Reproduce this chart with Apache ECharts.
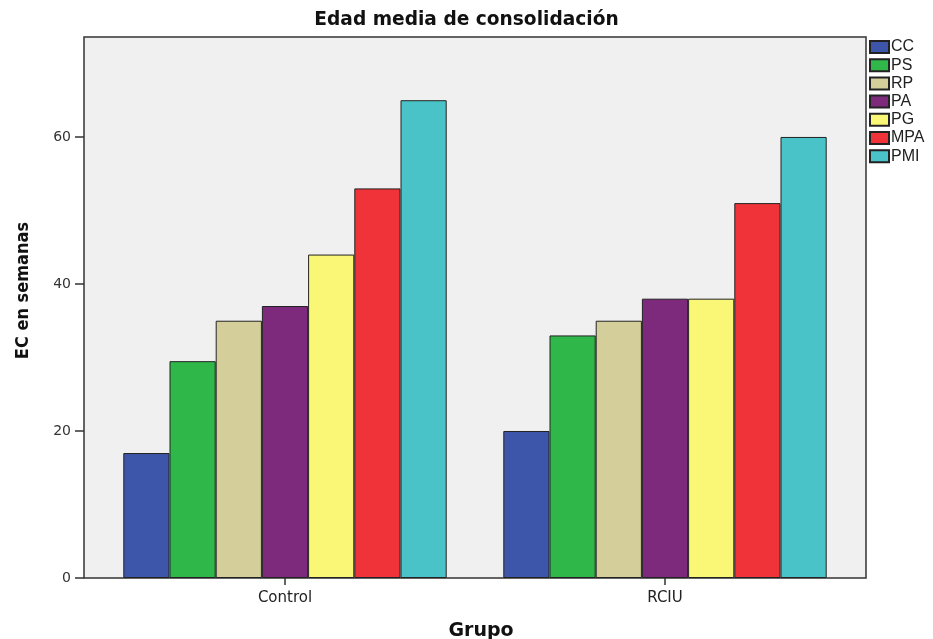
<!DOCTYPE html>
<html>
<head>
<meta charset="utf-8">
<script src="https://cdn.jsdelivr.net/npm/echarts@6/dist/echarts.min.js"></script>
<style>html,body{margin:0;padding:0;background:#fff}#c{width:933px;height:639px}</style>
</head>
<body>
<div id="c"></div>
<script>
const categories = ['Control', 'RCIU'];
const seriesNames = ['CC', 'PS', 'RP', 'PA', 'PG', 'MPA', 'PMI'];
const valCC  = [17, 20];
const valPS  = [29.5, 33];
const valRP  = [35, 35];
const valPA  = [37, 38];
const valPG  = [44, 38];
const valMPA = [53, 51];
const valPMI = [65, 60];
const yTicks = [0, 20, 40, 60];
const colors = ['#3e56a9', '#30b74a', '#d4cf9a', '#7d2a7c', '#fbf776', '#f03339', '#4ac3c8'];
const seriesValues = [valCC, valPS, valRP, valPA, valPG, valMPA, valPMI];

const chart = echarts.init(document.getElementById('c'), null, {renderer: 'canvas'});
const yMax = 73.6;
chart.setOption({
  animation: false,
  backgroundColor: '#ffffff',
  title: {
    text: 'Edad media de consolidación',
    left: 'center',
    top: 6,
    textStyle: {fontFamily: 'DejaVu Sans', fontWeight: 'bold', fontSize: 18.6, color: '#111'}
  },
  legend: {
    orient: 'vertical',
    left: 869,
    top: 39,
    itemWidth: 19,
    itemHeight: 12,
    itemGap: 2.2,
    icon: 'rect',
    padding: 0,
    textStyle: {fontFamily: 'Liberation Sans', fontSize: 16, color: '#222', padding: [0, 0, 0, -3], lineHeight: 16},
    data: seriesNames
  },
  grid: [
    {left: 84, top: 37, width: 782, height: 541, show: true, backgroundColor: '#f0f0f0', borderColor: '#333', borderWidth: 1.5, outerBoundsMode: 'none', containLabel: false},
    {left: 95, top: 37, width: 760, height: 541, outerBoundsMode: 'none', containLabel: false}
  ],
  xAxis: [
    {gridIndex: 0, type: 'value', min: 0, max: 1, show: false},
    {
      gridIndex: 1, type: 'category', data: categories,
      axisLine: {show: false},
      axisTick: {show: true, alignWithLabel: true, length: 7, lineStyle: {color: '#333', width: 1.5}},
      axisLabel: {fontFamily: 'DejaVu Sans', fontSize: 15, color: '#222', margin: 13},
      name: 'Grupo', nameLocation: 'middle', nameGap: 44,
      nameTextStyle: {fontFamily: 'DejaVu Sans', fontWeight: 'bold', fontSize: 19, color: '#111', padding: [0, 0, 0, 12]}
    }
  ],
  yAxis: [
    {
      gridIndex: 0, type: 'value', min: 0, max: yMax,
      splitLine: {show: false},
      axisLine: {show: false},
      axisTick: {show: true, length: 9, customValues: yTicks, lineStyle: {color: '#333', width: 1.5}},
      axisLabel: {fontFamily: 'DejaVu Sans', fontSize: 14, color: '#333', margin: 13, customValues: yTicks},
      name: 'EC en semanas', nameLocation: 'middle', nameGap: 52,
      nameTextStyle: {fontFamily: '"DejaVu Sans Condensed", "Liberation Sans"', fontWeight: 'bold', fontSize: 18, color: '#111', padding: [0, 0, 0, 34]}
    },
    {gridIndex: 1, type: 'value', min: 0, max: yMax, show: false}
  ],
  series: seriesNames.map((n, i) => ({
    name: n,
    type: 'bar',
    xAxisIndex: 1,
    yAxisIndex: 1,
    data: seriesValues[i],
    barWidth: 46.2,
    barGap: '0%',
    itemStyle: {color: colors[i], borderColor: '#222', borderWidth: 1}
  }))
});
</script>
</body>
</html>
